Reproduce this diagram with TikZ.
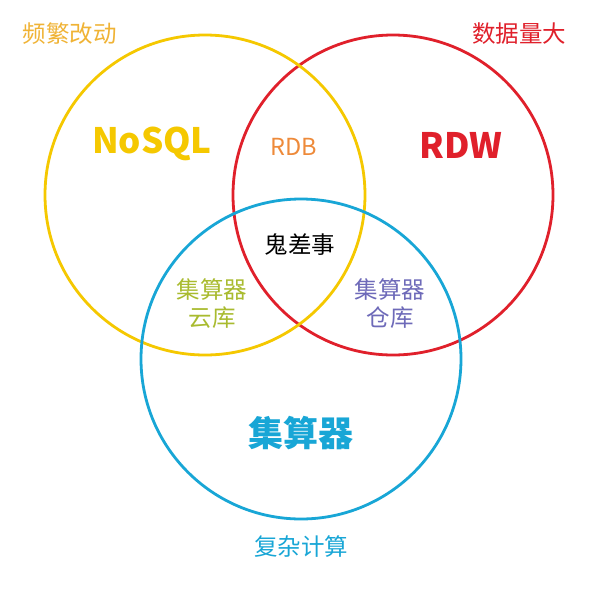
\documentclass[tikz,border=0pt]{standalone}
\usepackage{fontspec}
\setmainfont{Noto Sans CJK SC}
\definecolor{cyel}{HTML}{F5C800}
\definecolor{cyeltxt}{HTML}{F0B335}
\definecolor{cred}{HTML}{E0202B}
\definecolor{corg}{HTML}{EE8A3A}
\definecolor{cblue}{HTML}{18A6D6}
\definecolor{cgreen}{HTML}{A9BB2F}
\definecolor{cpurple}{HTML}{6E6AB9}
\begin{document}
\begin{tikzpicture}[x=1pt,y=-1pt,
  ring/.style={line width=2.8pt},
  lbl/.style={font=\fontsize{23.5}{28}\selectfont, align=center, inner sep=0pt},
  big/.style={font=\fontsize{35}{40}\selectfont\bfseries, inner sep=0pt}]
\useasboundingbox[fill=white] (0,0) rectangle (600,600);
\draw[ring, cred] (393,195) circle[radius=160];
\draw[ring, cyel] (205,195) circle[radius=160];
\draw[ring, cblue] (301,359) circle[radius=160];
\node[lbl, text=cyeltxt] (t1) at (70,34) {频繁改动};
\node[lbl, text=cred] (t2) at (519,34) {数据量大};
\node[big, text=cyel] (nosql) at (152,144) {NoSQL};
\node[lbl, text=corg] (rdb) at (294,147) {RDB};
\node[big, text=cred] (rdw) at (461,145) {RDW};
\node[lbl, text=black] (gui) at (300,245) {鬼差事};
\node[lbl, text=cgreen] (yun) at (212,304) {集算器\\云库};
\node[lbl, text=cpurple] (cang) at (390,304) {集算器\\仓库};
\node[big, text=cblue] (jsq) at (301,433) {集算器};
\node[lbl, text=cblue] (fz) at (301,547) {复杂计算};
\end{tikzpicture}
\end{document}
